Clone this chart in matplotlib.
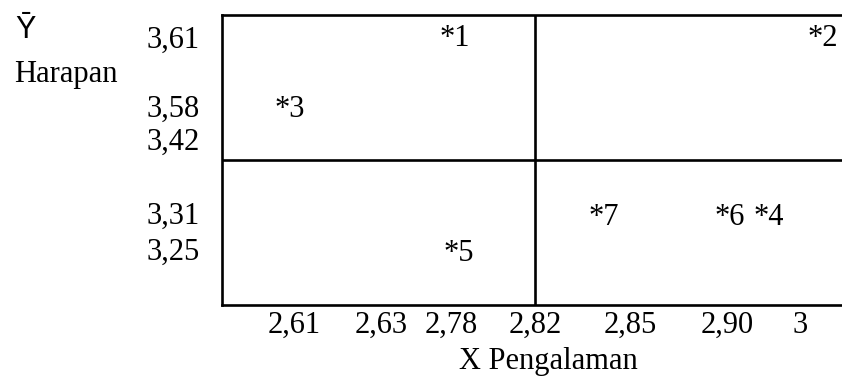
import matplotlib
matplotlib.use("Agg")
import matplotlib.pyplot as plt

# tick labels (as printed, decimal comma)
x_labels = ["2,61", "2,63", "2,78", "2,82", "2,85", "2,90", "3"]
y_labels = ["3,61", "3,58", "3,42", "3,31", "3,25"]

# points: name, x tick it sits on, y tick it sits on
point_names = ["*1", "*2", "*3", "*4", "*5", "*6", "*7"]
point_x = ["2,78", "3", "2,61", "3", "2,78", "2,90", "2,85"]
point_y = ["3,61", "3,61", "3,58", "3,31", "3,25", "3,31", "3,31"]

x_title = "X Pengalaman"
y_symbol = "\u0232"
y_title = "Harapan"

# layout: where each printed tick sits along the frame (axes fraction)
x_pos = [0.116, 0.256, 0.369, 0.505, 0.658, 0.815, 0.932]
y_pos = [0.924, 0.686, 0.572, 0.317, 0.193]
# small pixel nudges of the point labels, as in the original
nudge = [(4, 2), (23, 2), (-4, 0), (-31, -1), (8, -1), (2, -1), (-26, -1)]

serif = "Liberation Serif"
fs = 22

fig = plt.figure(figsize=(8.42, 3.76), dpi=100)
ax = fig.add_axes([222 / 842, 1 - 305 / 376, 1 - 222 / 842, 290 / 376])
ax.set_xlim(0, 1)
ax.set_ylim(0, 1)

for side in ["left", "top", "bottom"]:
    ax.spines[side].set_linewidth(1.9)
ax.spines["right"].set_visible(False)

# quadrant dividers at the means
ax.axvline(x_pos[x_labels.index("2,82")], color="black", lw=1.9)
ax.axhline(0.5, color="black", lw=1.9)

ax.set_xticks(x_pos)
ax.set_xticklabels(x_labels, fontfamily=serif, fontsize=fs)
ax.set_yticks(y_pos)
ax.set_yticklabels(y_labels, fontfamily=serif, fontsize=fs)
ax.tick_params(axis="x", length=0, pad=4)
ax.tick_params(axis="y", length=0, pad=16)

for name, xl, yl, (dx, dy) in zip(point_names, point_x, point_y, nudge):
    ax.annotate(name, xy=(x_pos[x_labels.index(xl)], y_pos[y_labels.index(yl)]),
                xytext=(dx, dy), textcoords="offset pixels",
                ha="center", va="center_baseline",
                fontfamily=serif, fontsize=fs)

ax.set_xlabel(x_title, fontfamily=serif, fontsize=fs)
ax.xaxis.set_label_coords((548 - 222) / 620, (305 - 361) / 290)
ax.xaxis.label.set_va("center")

fig.text(25 / 842, 1 - 38 / 376, y_symbol, ha="center", va="baseline",
         family=["Liberation Sans", "DejaVu Sans"], fontsize=22)
fig.text(14 / 842, 1 - 82 / 376, y_title, ha="left", va="baseline",
         fontfamily=serif, fontsize=fs)

fig.savefig("out.png", dpi=100)
